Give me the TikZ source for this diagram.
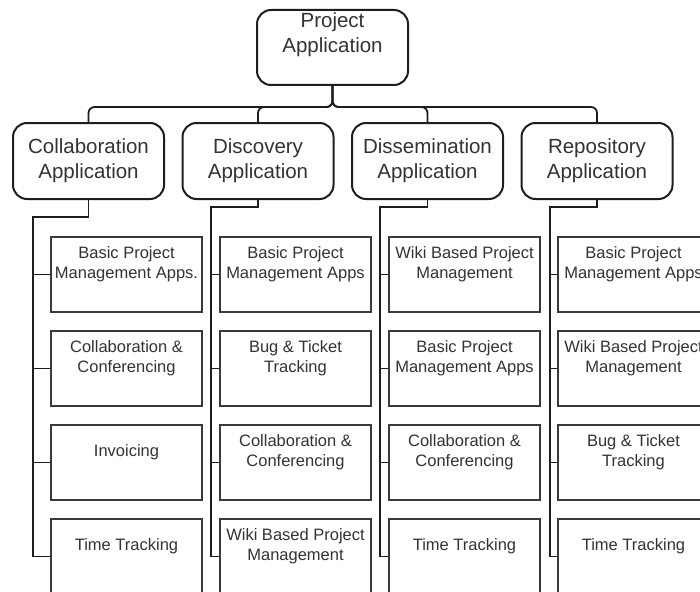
\documentclass[tikz,border=0pt]{standalone}
\usepackage{fontspec}
\setmainfont{Liberation Sans}
\definecolor{lineC}{HTML}{1E1E1E}
\definecolor{boxC}{HTML}{3A3A3A}
\definecolor{txtC}{HTML}{333333}
\newcommand\leafnode[4]{%
  \node[leafbox] (#1) at (#2,#3) {};
  \node[leaftxt] (#1t) at ([yshift=10.5pt]#1.center) {#4};}
\begin{document}
\begin{tikzpicture}[x=1pt,y=-1pt,
  conn/.style={draw=lineC,line width=1.8pt},
  topbox/.style={draw=lineC,line width=2pt,rounded corners=14pt,minimum width=151pt,minimum height=75pt,inner sep=0pt},
  toptxt/.style={align=center,font=\fontsize{20.5}{25}\selectfont,text=txtC,inner sep=0pt},
  appbox/.style={draw=lineC,line width=2pt,rounded corners=14pt,minimum width=151pt,minimum height=76pt,inner sep=0pt,align=center,font=\fontsize{20.5}{25}\selectfont,text=txtC},
  leafbox/.style={draw=boxC,line width=1.6pt,minimum width=151pt,minimum height=75pt,inner sep=0pt},
  leaftxt/.style={align=center,font=\fontsize{16.5}{20}\selectfont,text=txtC,inner sep=0pt},
]
\useasboundingbox (0,0) rectangle (700,591);
\clip (0,0) rectangle (700,591);
\fill[white] (0,0) rectangle (700,591);

% top
\node[topbox] (top) at (332.5,47.5) {};
\node[toptxt] (topt) at ([yshift=13pt]top.center) {Project\\Application};

% level 2
\node[appbox] (col) at (88.5,161) {Collaboration\\Application};
\node[appbox] (dis) at (258,161) {Discovery\\Application};
\node[appbox] (dsm) at (427.5,161) {Dissemination\\Application};
\node[appbox] (rep) at (597,161) {Repository\\Application};

% bus
\draw[conn,rounded corners=6pt] (top.south) -- ++(0,21) -| (col.north);
\draw[conn,rounded corners=6pt] (top.south) -- ++(0,21) -| (dis.north);
\draw[conn,rounded corners=6pt] (top.south) -- ++(0,21) -| (dsm.north);
\draw[conn,rounded corners=6pt] (top.south) -- ++(0,21) -| (rep.north);

% leaves
\leafnode{c1}{126.5}{274.5}{Basic Project\\Management Apps.}
\leafnode{c2}{126.5}{368.5}{Collaboration \&\\Conferencing}
\leafnode{c3}{126.5}{462.5}{Invoicing}
\leafnode{c4}{126.5}{556.5}{Time Tracking}

\leafnode{d1}{295.5}{274.5}{Basic Project\\Management Apps}
\leafnode{d2}{295.5}{368.5}{Bug \& Ticket\\Tracking}
\leafnode{d3}{295.5}{462.5}{Collaboration \&\\Conferencing}
\leafnode{d4}{295.5}{556.5}{Wiki Based Project\\Management}

\leafnode{s1}{464.5}{274.5}{Wiki Based Project\\Management}
\leafnode{s2}{464.5}{368.5}{Basic Project\\Management Apps}
\leafnode{s3}{464.5}{462.5}{Collaboration \&\\Conferencing}
\leafnode{s4}{464.5}{556.5}{Time Tracking}

\leafnode{r1}{633.5}{274.5}{Basic Project\\Management Apps}
\leafnode{r2}{633.5}{368.5}{Wiki Based Project\\Management}
\leafnode{r3}{633.5}{462.5}{Bug \& Ticket\\Tracking}
\leafnode{r4}{633.5}{556.5}{Time Tracking}

% trunk coordinates
\coordinate (tc) at (33,217);
\coordinate (td) at (211,207);
\coordinate (ts) at (380,207);
\coordinate (tr) at (550,207);

% trunks
\draw[conn] (col.south) |- (tc) |- (c4.west);
\draw[conn] (dis.south) |- (td) |- (d4.west);
\draw[conn] (dsm.south) |- (ts) |- (s4.west);
\draw[conn] (rep.south) |- (tr) |- (r4.west);

\foreach \n in {c1,c2,c3}{\draw[conn] (\n.west -| tc) -- (\n.west);}
\foreach \n in {d1,d2,d3}{\draw[conn] (\n.west -| td) -- (\n.west);}
\foreach \n in {s1,s2,s3}{\draw[conn] (\n.west -| ts) -- (\n.west);}
\foreach \n in {r1,r2,r3}{\draw[conn] (\n.west -| tr) -- (\n.west);}
\end{tikzpicture}
\end{document}
